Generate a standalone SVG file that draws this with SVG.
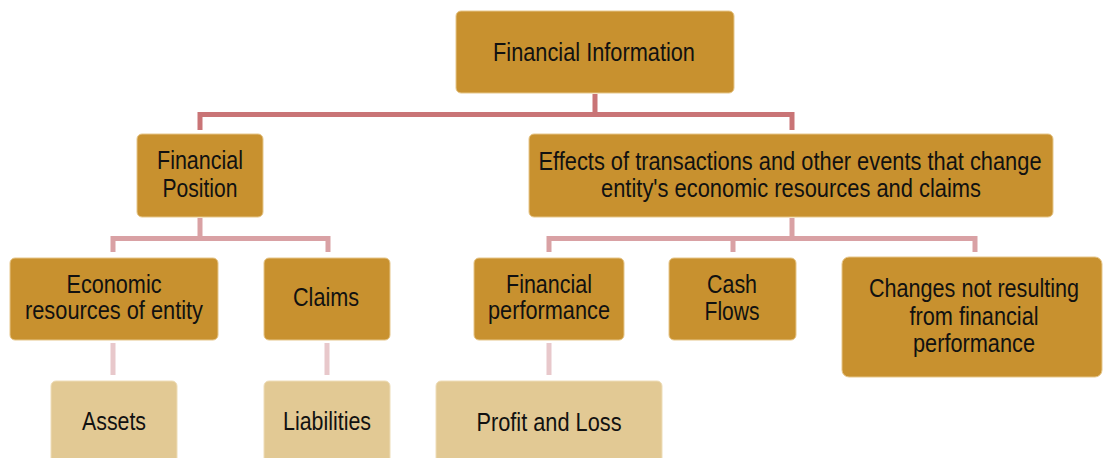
<svg xmlns="http://www.w3.org/2000/svg" width="1103" height="458" viewBox="0 0 1103 458">
<style>
.d{fill:#C8912F;stroke:#E6C68A;stroke-width:1}
.l{fill:#E2C994;stroke:#EEDDB8;stroke-width:1}
text{font-family:"Liberation Sans",Arial,sans-serif;font-size:25px;fill:#111;text-anchor:middle}
.c1{fill:none;stroke:#C97476;stroke-width:5}
.c2{fill:none;stroke:#D9A1A4;stroke-width:5}
.c3{fill:none;stroke:#E8C8CB;stroke-width:5}
</style>
<rect width="1103" height="458" fill="#fff"/>
<g id="connectors">
<path class="c1" d="M595,94 V114.5 M200,130 V114.5 H792 V130"/>
<path class="c2" d="M200,218 V238.5 M113,252 V238.5 H328 V252"/>
<path class="c2" d="M792,218 V238.5 M549,252 V238.5 H975 V252 M733,238.5 V252"/>
<path class="c3" d="M113,343 V375 M327,343 V375 M549,343 V375"/>
</g>
<g id="n-fininfo"><rect class="d" x="456" y="11" width="278" height="82" rx="5"/><text transform="translate(594,61) scale(0.88,1)" textLength="229.5" lengthAdjust="spacingAndGlyphs">Financial Information</text></g>
<g id="n-finpos"><rect class="d" x="137" y="134" width="126" height="83" rx="5"/><text transform="translate(200,169) scale(0.88,1)" textLength="97.7" lengthAdjust="spacingAndGlyphs">Financial</text><text transform="translate(200,197) scale(0.88,1)" textLength="85.2" lengthAdjust="spacingAndGlyphs">Position</text></g>
<g id="n-effects"><rect class="d" x="529" y="134" width="524" height="83" rx="5"/><text transform="translate(790,170) scale(0.88,1)" textLength="571.6" lengthAdjust="spacingAndGlyphs">Effects of transactions and other events that change</text><text transform="translate(791,197) scale(0.88,1)" textLength="431.8" lengthAdjust="spacingAndGlyphs">entity's economic resources and claims</text></g>
<g id="n-econ"><rect class="d" x="10" y="258" width="208" height="82" rx="5"/><text transform="translate(114,293) scale(0.88,1)" textLength="108" lengthAdjust="spacingAndGlyphs">Economic</text><text transform="translate(114,319) scale(0.88,1)" textLength="202.3" lengthAdjust="spacingAndGlyphs">resources of entity</text></g>
<g id="n-claims"><rect class="d" x="264" y="258" width="126" height="82" rx="5"/><text transform="translate(326,306) scale(0.88,1)" textLength="75" lengthAdjust="spacingAndGlyphs">Claims</text></g>
<g id="n-finperf"><rect class="d" x="474" y="258" width="150" height="82" rx="5"/><text transform="translate(549,293) scale(0.88,1)" textLength="97.7" lengthAdjust="spacingAndGlyphs">Financial</text><text transform="translate(549,319) scale(0.88,1)" textLength="138.6" lengthAdjust="spacingAndGlyphs">performance</text></g>
<g id="n-cash"><rect class="d" x="669" y="258" width="127" height="82" rx="5"/><text transform="translate(732,293) scale(0.88,1)" textLength="56.8" lengthAdjust="spacingAndGlyphs">Cash</text><text transform="translate(732,320) scale(0.88,1)" textLength="62.5" lengthAdjust="spacingAndGlyphs">Flows</text></g>
<g id="n-changes"><rect class="d" x="842" y="257" width="260" height="120" rx="7"/><text transform="translate(974,297) scale(0.88,1)" textLength="238.6" lengthAdjust="spacingAndGlyphs">Changes not resulting</text><text transform="translate(974,325) scale(0.88,1)" textLength="146.6" lengthAdjust="spacingAndGlyphs">from financial</text><text transform="translate(974,352) scale(0.88,1)" textLength="138.6" lengthAdjust="spacingAndGlyphs">performance</text></g>
<g id="n-assets"><rect class="l" x="51" y="381" width="126" height="90" rx="5"/><text transform="translate(114,430) scale(0.88,1)" textLength="72.7" lengthAdjust="spacingAndGlyphs">Assets</text></g>
<g id="n-liab"><rect class="l" x="264" y="381" width="126" height="90" rx="5"/><text transform="translate(327,430) scale(0.88,1)" textLength="100" lengthAdjust="spacingAndGlyphs">Liabilities</text></g>
<g id="n-pl"><rect class="l" x="436" y="381" width="226" height="90" rx="5"/><text transform="translate(549,431) scale(0.88,1)" textLength="164.8" lengthAdjust="spacingAndGlyphs">Profit and Loss</text></g>
</svg>
